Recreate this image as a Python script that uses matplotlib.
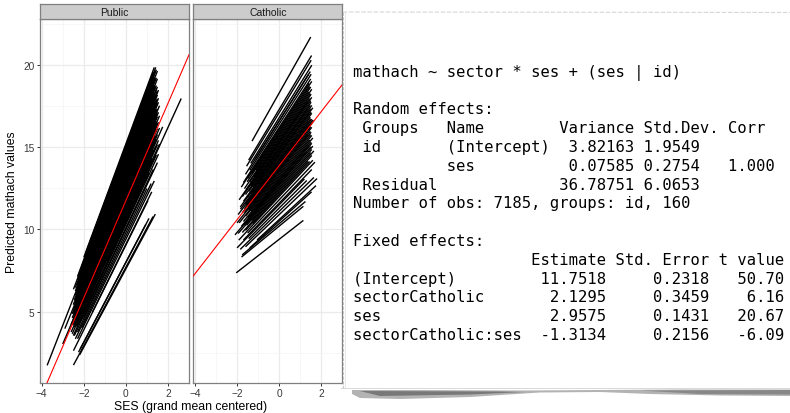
import matplotlib
matplotlib.use("Agg")
import matplotlib.pyplot as plt
from matplotlib.patches import Rectangle, Polygon
from matplotlib.lines import Line2D

# ---------------------------------------------------------------- data
sectors = ["Public", "Catholic"]

# fixed effects from the fitted model
coef_names = ["(Intercept)", "sectorCatholic", "ses", "sectorCatholic:ses"]
coef_estimate = [11.7518, 2.1295, 2.9575, -1.3134]
coef_se = [0.2318, 0.3459, 0.1431, 0.2156]
coef_t = [50.70, 6.16, 20.67, -6.09]

# per-school predicted lines: intercept at ses = 0, slope, ses range
public_intercept = [7.7, 7.6, 8.0, 8.0, 9.05, 9.1, 10.6, 9.4, 9.6, 9.8,
                    10.0, 10.1, 10.3, 10.4, 10.5, 10.7, 10.8, 10.9, 11.0, 11.0,
                    11.1, 11.2, 11.3, 11.3, 11.4, 11.5, 11.5, 11.6, 11.7, 11.7,
                    11.8, 11.9, 11.9, 12.0, 12.0, 12.1, 12.1, 12.2, 12.2, 12.3,
                    12.3, 12.4, 12.4, 12.5, 12.5, 12.6, 12.6, 12.7, 12.7, 12.8,
                    12.8, 12.9, 12.9, 13.0, 13.0, 13.1, 13.1, 13.2, 13.2, 13.3,
                    13.3, 13.4, 13.4, 13.5, 13.5, 13.6, 13.6, 13.7, 13.8, 13.8,
                    13.9, 14.0, 14.0, 14.1, 14.2, 14.3, 14.4, 14.5, 14.6, 14.7,
                    14.8, 14.9, 15.0, 15.1, 15.2, 13.1, 12.0, 14.4, 12.4, 11.6]
public_slope = [2.39, 2.38, 2.43, 2.43, 2.58, 2.59, 2.80, 2.63, 2.66, 2.69,
                2.71, 2.73, 2.76, 2.77, 2.78, 2.81, 2.83, 2.84, 2.85, 2.85,
                2.87, 2.88, 2.90, 2.90, 2.91, 2.92, 2.92, 2.94, 2.95, 2.95,
                2.97, 2.98, 2.98, 2.99, 2.99, 3.01, 3.01, 3.02, 3.02, 3.04,
                3.04, 3.05, 3.05, 3.07, 3.07, 3.08, 3.08, 3.09, 3.09, 3.11,
                3.11, 3.12, 3.12, 3.14, 3.14, 3.15, 3.15, 3.16, 3.16, 3.18,
                3.18, 3.19, 3.19, 3.21, 3.21, 3.22, 3.22, 3.23, 3.25, 3.25,
                3.26, 3.28, 3.28, 3.29, 3.31, 3.32, 3.33, 3.35, 3.36, 3.38,
                3.39, 3.40, 3.42, 3.43, 3.45, 3.15, 2.99, 3.33, 3.05, 2.94]
public_ses_min = [-2.49, -2.20, -2.25, -2.17, -2.49, -1.60, -0.90, -2.30, -2.10, -2.40,
                  -2.30, -2.00, -2.45, -2.20, -2.50, -2.35, -2.10, -2.55, -2.30, -1.90,
                  -2.45, -2.20, -2.60, -2.00, -2.35, -2.50, -2.10, -2.40, -2.25, -2.55,
                  -2.00, -2.45, -2.30, -2.60, -2.15, -2.40, -2.50, -2.25, -2.05, -2.45,
                  -2.35, -2.55, -2.20, -2.40, -2.00, -2.50, -2.30, -2.45, -2.15, -2.35,
                  -2.55, -2.25, -2.40, -2.10, -2.50, -2.30, -2.45, -2.20, -2.40, -2.35,
                  -2.05, -2.50, -2.25, -2.40, -2.15, -2.45, -2.30, -2.20, -2.40, -2.00,
                  -2.35, -3.74, -2.25, -2.10, -2.40, -2.30, -2.17, -2.40, -2.00, -2.30,
                  -2.49, -2.10, -2.30, -1.90, -2.00, -2.90, -3.00, -1.70, -1.80, -1.40]
public_ses_max = [1.29, 1.40, 1.10, 0.95, 1.05, 1.23, 2.63, 1.35, 1.20, 1.00,
                  1.50, 1.30, 1.55, 1.10, 1.45, 1.60, 1.25, 1.50, 1.40, 1.55,
                  1.30, 1.75, 1.45, 1.20, 1.50, 1.35, 1.60, 1.40, 1.50, 1.30,
                  1.45, 1.55, 1.25, 1.40, 1.50, 1.35, 1.60, 1.45, 1.30, 1.50,
                  1.40, 1.55, 1.35, 1.45, 1.50, 1.30, 1.60, 1.40, 1.50, 1.45,
                  1.35, 1.55, 1.40, 1.50, 1.30, 1.45, 1.55, 1.40, 1.50, 1.35,
                  1.45, 1.50, 1.40, 1.45, 1.55, 1.35, 1.50, 1.40, 1.45, 1.50,
                  1.35, 0.90, 1.45, 1.40, 1.50, 1.35, 1.45, 1.40, 1.50, 1.35,
                  1.45, 1.40, 1.42, 1.30, 1.35, 1.20, 1.10, 1.25, 1.00, 1.20]

catholic_intercept = [18.3, 17.3, 17.1, 16.8, 16.6, 16.4, 16.2, 16.0, 15.9, 15.8,
                      15.6, 15.5, 15.4, 15.3, 15.2, 15.1, 15.0, 14.9, 14.8, 14.7,
                      14.6, 14.5, 14.4, 14.3, 14.2, 14.1, 14.0, 13.9, 13.8, 13.7,
                      13.6, 13.5, 13.4, 13.3, 13.2, 13.1, 13.0, 12.9, 12.8, 12.7,
                      12.6, 12.5, 12.4, 12.3, 12.2, 12.0, 11.8, 11.6, 11.3, 11.1,
                      10.9, 10.6, 10.5, 10.35, 10.2, 9.4, 15.7, 16.1, 14.9, 14.2,
                      13.6, 13.0, 12.8, 14.6, 15.3, 13.9, 12.1, 11.5, 16.6, 14.0]
catholic_slope = [2.27, 2.13, 2.10, 2.06, 2.03, 2.00, 1.97, 1.94, 1.93, 1.91,
                  1.89, 1.87, 1.86, 1.84, 1.83, 1.82, 1.80, 1.79, 1.77, 1.76,
                  1.75, 1.73, 1.72, 1.71, 1.69, 1.68, 1.66, 1.65, 1.63, 1.62,
                  1.60, 1.59, 1.58, 1.56, 1.55, 1.54, 1.52, 1.51, 1.49, 1.48,
                  1.46, 1.45, 1.44, 1.42, 1.41, 1.38, 1.35, 1.32, 1.28, 1.25,
                  1.22, 1.18, 1.16, 1.08, 1.05, 1.00, 1.90, 1.96, 1.79, 1.69,
                  1.60, 1.52, 1.49, 1.75, 1.84, 1.65, 1.40, 1.31, 2.03, 1.66]
catholic_ses_min = [-1.29, -1.45, -1.55, -1.35, -1.60, -1.40, -1.70, -1.50, -1.30, -1.52,
                    -1.65, -1.40, -1.20, -1.55, -1.75, -1.35, -1.60, -1.45, -1.25, -1.70,
                    -1.50, -1.35, -1.84, -1.60, -1.40, -1.55, -1.30, -1.75, -1.50, -1.65,
                    -1.20, -1.45, -1.90, -1.60, -1.35, -1.70, -1.50, -1.80, -1.40, -1.65,
                    -1.95, -1.55, -1.30, -1.75, -1.60, -1.92, -1.50, -1.70, -1.45, -1.85,
                    -1.60, -1.05, -1.40, -1.76, -1.79, -2.04, -1.10, -1.80, -1.00, -1.95,
                    -2.00, -1.10, -2.10, -1.85, -1.90, -1.15, -1.25, -2.00, -1.15, -1.65]
catholic_ses_max = [1.50, 1.54, 1.52, 1.55, 1.48, 1.52, 1.50, 1.55, 1.45, 1.50,
                    1.55, 1.48, 1.52, 1.45, 1.55, 1.50, 1.52, 1.48, 1.55, 1.50,
                    1.45, 1.52, 1.55, 1.48, 1.50, 1.55, 1.45, 1.52, 1.50, 1.55,
                    1.48, 1.52, 1.50, 1.55, 1.45, 1.60, 1.52, 1.55, 1.50, 1.60,
                    1.55, 1.50, 1.65, 1.55, 1.38, 1.60, 1.70, 1.55, 1.31, 1.65,
                    1.80, 1.75, 1.54, 1.25, 1.15, 1.15, 1.40, 1.42, 1.35, 1.40,
                    1.35, 1.40, 1.30, 1.60, 1.35, 1.65, 1.45, 1.20, 1.40, 1.60]

x_ticks = [-4, -2, 0, 2]
y_ticks = [5, 10, 15, 20]

# ---------------------------------------------------------------- figure
W, H = 790, 414
fig = plt.figure(figsize=(W / 100, H / 100), dpi=100)
plt.rcParams["font.family"] = ["Liberation Sans", "DejaVu Sans"]


def fx(px):
    return px / W


def fy(py):
    return 1 - py / H


panel_top, panel_bot = 20, 384
panel_w = 149
panel_lefts = [40, 193.3]
border = "#7F7F7F"

school_lines = {
    "Public": (public_intercept, public_slope, public_ses_min, public_ses_max),
    "Catholic": (catholic_intercept, catholic_slope, catholic_ses_min, catholic_ses_max),
}
fixed_line = {
    "Public": (coef_estimate[0], coef_estimate[2]),
    "Catholic": (coef_estimate[0] + coef_estimate[1], coef_estimate[2] + coef_estimate[3]),
}

for i, (sector, left) in enumerate(zip(sectors, panel_lefts)):
    ax = fig.add_axes([fx(left), fy(panel_bot), panel_w / W, (panel_bot - panel_top) / H])
    ax.set_xlim(-4.08, 3.0)
    ax.set_ylim(0.66, 22.8)
    ax.set_xticks(x_ticks)
    ax.set_yticks(y_ticks)
    ax.set_xticks([-3, -1, 1, 3], minor=True)
    ax.set_yticks([2.5, 7.5, 12.5, 17.5, 22.5], minor=True)
    ax.grid(which="major", color="#EBEBEB", lw=0.9)
    ax.grid(which="minor", color="#F4F4F4", lw=0.5)
    ax.set_axisbelow(True)
    for sp in ax.spines.values():
        sp.set_color(border)
        sp.set_linewidth(0.9)
    ax.tick_params(which="major", length=2.4, width=0.7, color="#333333",
                   labelsize=7.3, labelcolor="#3A3A3A", pad=1.5)
    ax.tick_params(which="minor", length=0)
    if i > 0:
        ax.tick_params(axis="y", which="both", length=0, labelleft=False)

    b0, b1, lo, hi = school_lines[sector]
    for b, s, a, z in zip(b0, b1, lo, hi):
        ax.plot([a, z], [b + s * a, b + s * z], color="black", lw=1.0,
                solid_capstyle="butt")
    fb, fs = fixed_line[sector]
    ax.axline((0, fb), slope=fs, color="red", lw=0.8, zorder=5)

    # facet strip
    st = fig.add_axes([fx(left), fy(panel_top), panel_w / W, 15 / H])
    st.set_facecolor("#CCCCCC")
    st.set_xticks([])
    st.set_yticks([])
    for sp in st.spines.values():
        sp.set_color(border)
        sp.set_linewidth(0.9)
    st.text(0.5, 0.45, sector, ha="center", va="center", fontsize=7.5,
            color="#1A1A1A", transform=st.transAxes)

fig.text(fx(191), fy(407), "SES (grand mean centered)", ha="center", va="center",
         fontsize=8.8, color="black")
fig.text(fx(12), fy(202), "Predicted mathach values", ha="center", va="center",
         rotation=90, fontsize=8.8, color="black")

# ---------------------------------------------------------------- paper sheet
px0, py0, py1 = 343, 13, 389
sheet = Rectangle((fx(px0), fy(py1)), 1 - fx(px0) + 0.01, (py1 - py0) / H,
                  transform=fig.transFigure, facecolor="white", edgecolor="none",
                  zorder=10)
fig.add_artist(sheet)
fig.add_artist(Line2D([fx(px0), fx(px0)], [fy(py0), fy(py1)], transform=fig.transFigure,
                      color="#C4C4C4", lw=0.8, ls=(0, (3, 1.2)), zorder=11))
fig.add_artist(Line2D([fx(px0 + 1.5), fx(px0 + 1.5)], [fy(py0), fy(py1)],
                      transform=fig.transFigure, color="#E6E6E6", lw=0.6, zorder=11))
fig.add_artist(Line2D([fx(px0), 1], [fy(py0), fy(py0 + 0.5)], transform=fig.transFigure,
                      color="#D6D6D6", lw=0.8, ls=(0, (4, 1.5)), zorder=11))
fig.add_artist(Line2D([fx(px0 - 2), 1], [fy(py1), fy(py1)], transform=fig.transFigure,
                      color="#D8D8D8", lw=0.7, zorder=11))

# ragged shadow under the sheet
shadow_top = [(352, 391), (420, 391), (520, 391.5), (600, 391), (680, 390.5), (790, 390.5)]
shadow_bot = [(790, 397), (720, 396.5), (650, 395), (600, 393), (540, 393.5), (470, 398),
              (400, 400), (360, 399), (352, 395)]
fig.add_artist(Polygon([(fx(x), fy(y)) for x, y in shadow_top + shadow_bot],
                       closed=True, transform=fig.transFigure, facecolor="#9A9A9A",
                       edgecolor="none", alpha=0.75, zorder=9))
shadow_core = [(360, 392), (500, 392.5), (525, 393), (470, 395.5), (380, 397)]
fig.add_artist(Polygon([(fx(x), fy(y)) for x, y in shadow_core], closed=True,
                       transform=fig.transFigure, facecolor="#6A6A6A",
                       edgecolor="none", alpha=0.8, zorder=9))
shadow_core2 = [(640, 391.5), (790, 391), (790, 395.5), (700, 395)]
fig.add_artist(Polygon([(fx(x), fy(y)) for x, y in shadow_core2], closed=True,
                       transform=fig.transFigure, facecolor="#777777",
                       edgecolor="none", alpha=0.7, zorder=9))

# ---------------------------------------------------------------- model output
rows = [f"{'':<18} {'Estimate':>8} {'Std. Error':>10} {'t value':>7}"]
for n, e, s, t in zip(coef_names, coef_estimate, coef_se, coef_t):
    rows.append(f"{n:<18} {e:>8.4f} {s:>10.4f} {t:>7.2f}")

output_lines = [
    "mathach ~ sector * ses + (ses | id)",
    "",
    "Random effects:",
    " Groups   Name        Variance Std.Dev. Corr",
    " id       (Intercept)  3.82163 1.9549",
    "          ses          0.07585 0.2754   1.000",
    " Residual             36.78751 6.0653",
    "Number of obs: 7185, groups: id, 160",
    "",
    "Fixed effects:",
] + rows

line_h = 18.8
for k, line in enumerate(output_lines):
    if not line:
        continue
    fig.text(fx(352.7), fy(71.7 + k * line_h + 5.2), line, ha="left", va="baseline",
             family="DejaVu Sans Mono", fontsize=11.2, color="black", zorder=12)

fig.savefig("out.png", dpi=100)
